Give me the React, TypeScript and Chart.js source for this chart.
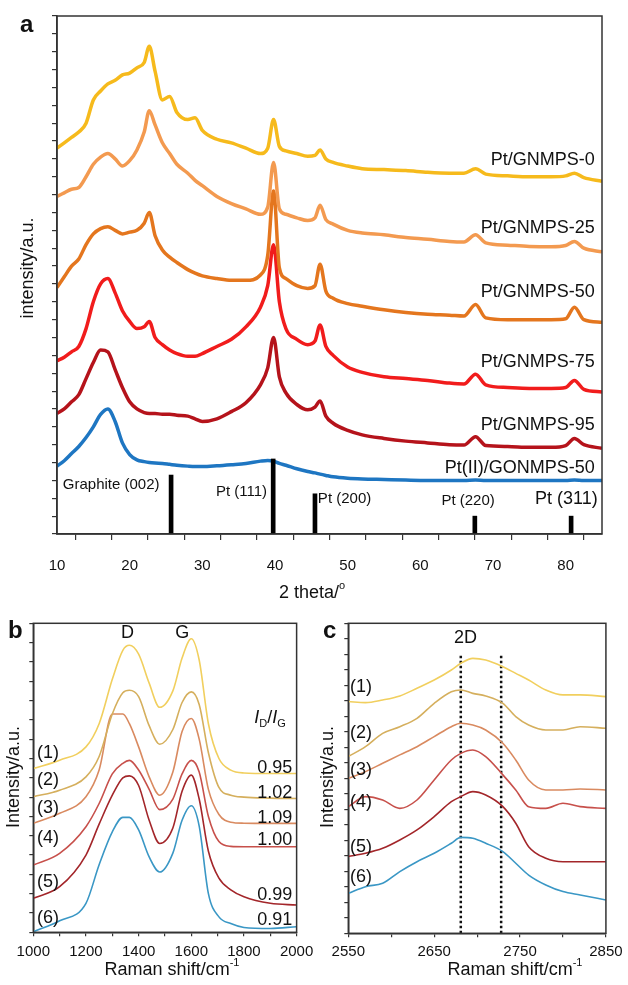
import React, { useEffect, useRef } from 'react';
import { Chart, registerables } from 'chart.js';
Chart.register(...registerables);

const FONT = '"Liberation Sans", Arial, Helvetica, sans-serif';

// ---------------- Panel a : XRD ----------------
const xrdTheta = [10, 11, 12, 13, 14, 15, 16, 17, 18, 19, 20, 21, 22, 22.7, 23.5, 24.5, 25.5, 26.5, 28, 29, 30, 32, 34, 36, 38, 39, 39.8, 40.6, 41.5, 43, 44.5, 45.5, 46.2, 47, 48, 50, 52, 55, 58, 61, 64, 66, 67.6, 69, 72, 75, 78, 80, 81.2, 82.5, 85];
const xrdPt0 = [21.6, 21.9, 22.2, 22.5, 23.0, 24.3, 24.8, 25.2, 25.4, 25.7, 25.8, 26.1, 26.4, 27.3, 25.9, 24.3, 24.5, 23.6, 23.2, 23.3, 22.6, 22.1, 21.9, 21.6, 21.3, 21.6, 23.2, 21.7, 21.45, 21.3, 21.15, 21.2, 21.5, 21.0, 20.8, 20.6, 20.45, 20.4, 20.35, 20.25, 20.2, 20.2, 20.45, 20.15, 20.05, 20.0, 20.0, 20.05, 20.2, 19.95, 19.75];
const xrdPt25 = [18.9, 19.1, 19.3, 19.4, 20.0, 20.7, 21.1, 21.3, 21.0, 20.6, 20.9, 21.5, 22.5, 23.7, 22.9, 21.9, 21.3, 20.7, 20.2, 19.8, 19.5, 18.9, 18.5, 18.2, 17.9, 18.3, 20.8, 18.2, 17.9, 17.7, 17.55, 17.7, 18.4, 17.6, 17.35, 17.0, 16.85, 16.75, 16.6, 16.5, 16.38, 16.35, 16.75, 16.3, 16.17, 16.1, 16.08, 16.15, 16.38, 16.0, 15.8];
const xrdPt50 = [13.8, 14.4, 15.0, 15.4, 16.2, 16.8, 17.1, 17.2, 17.0, 16.8, 16.9, 17.0, 17.4, 18.0, 16.7, 15.9, 15.5, 15.2, 14.8, 14.6, 14.45, 14.3, 14.2, 14.2, 14.5, 15.6, 19.2, 14.9, 14.3, 13.9, 13.75, 13.9, 15.1, 13.6, 13.2, 12.9, 12.75, 12.55, 12.4, 12.3, 12.25, 12.2, 12.85, 12.1, 12.0, 12.0, 12.0, 12.05, 12.7, 12.0, 11.85];
const xrdPt75 = [9.7, 9.9, 10.2, 10.5, 11.5, 13.0, 14.0, 14.3, 13.5, 12.5, 11.9, 11.5, 11.6, 11.9, 11.0, 10.6, 10.3, 10.1, 9.95, 9.95, 10.1, 10.5, 10.9, 11.6, 12.7, 13.9, 16.2, 13.0, 11.5, 10.9, 10.6, 10.8, 11.7, 10.5, 10.0, 9.35, 9.05, 8.8, 8.7, 8.6, 8.45, 8.4, 8.95, 8.35, 8.2, 8.15, 8.15, 8.2, 8.6, 8.1, 7.95];
const xrdPt95 = [6.75, 7.0, 7.4, 7.8, 8.7, 9.6, 10.3, 10.2, 9.2, 8.2, 7.4, 7.0, 6.8, 6.75, 6.75, 6.7, 6.7, 6.65, 6.6, 6.45, 6.3, 6.45, 6.85, 7.35, 8.35, 9.3, 11.0, 8.8, 7.9, 7.25, 6.95, 7.1, 7.45, 6.6, 6.2, 5.8, 5.55, 5.35, 5.2, 5.1, 5.0, 4.98, 5.45, 4.95, 4.9, 4.85, 4.85, 4.95, 5.35, 5.0, 4.8];
const xrdPtII = [3.8, 4.1, 4.5, 4.9, 5.4, 6.0, 6.7, 7.0, 6.3, 5.1, 4.45, 4.15, 4.05, 4.0, 3.97, 3.95, 3.9, 3.85, 3.8, 3.78, 3.78, 3.82, 3.88, 3.95, 4.08, 4.12, 4.08, 3.95, 3.85, 3.65, 3.5, 3.42, 3.35, 3.28, 3.2, 3.12, 3.08, 3.05, 3.02, 3.0, 3.0, 3.0, 3.02, 3.0, 3.0, 3.0, 3.0, 3.0, 3.02, 3.0, 3.0];
const xrdSeries = [xrdPt0, xrdPt25, xrdPt50, xrdPt75, xrdPt95, xrdPtII];
const xrdNames = ['Pt/GNMPS-0', 'Pt/GNMPS-25', 'Pt/GNMPS-50', 'Pt/GNMPS-75', 'Pt/GNMPS-95', 'Pt(II)/GONMPS-50'];
const xrdColors = ['#F6BA1C', '#F39A50', '#E4761E', '#F11C1C', '#B5131B', '#1E76C2'];
const xrdLabelX = 84.0;
const xrdLabelY = [20.93, 17.12, 13.56, 9.64, 6.1, 3.72];

const refTheta = [25.7, 39.75, 45.5, 67.5, 80.75];
const refHeight = [3.3, 4.2, 2.25, 1.0, 1.0];
const refNames = ['Graphite (002)', 'Pt (111)', 'Pt (200)', 'Pt (220)', 'Pt (311)'];
const refLabelX = [10.8, 38.9, 45.9, 62.9, 84.4];
const refLabelY = [2.74, 2.37, 1.96, 1.85, 1.96];
const refLabelAlign: ('left' | 'right')[] = ['left', 'right', 'left', 'left', 'right'];
const refLabelSize = [15, 15, 15, 15, 18];

// ---------------- Panel b : Raman ----------------
const ramanX = [1000, 1100, 1200, 1250, 1300, 1340, 1365, 1400, 1440, 1480, 1530, 1565, 1600, 1630, 1665, 1705, 1750, 1800, 1900, 2000];
const ramanS1 = [8.48, 8.91, 9.6, 10.8, 13.1, 14.6, 14.86, 14.4, 12.9, 11.65, 12.5, 14.2, 15.2, 14.1, 10.8, 9.0, 8.4, 8.25, 8.22, 8.22];
const ramanS2 = [7.02, 7.36, 8.05, 9.1, 11.3, 12.4, 12.53, 12.2, 10.7, 9.74, 10.5, 11.9, 12.45, 11.8, 9.3, 7.5, 7.1, 7.0, 6.95, 6.93];
const ramanS3 = [5.64, 6.16, 7.02, 8.4, 11.3, 11.3, 10.8, 9.6, 8.05, 7.1, 8.3, 10.4, 11.07, 10.0, 7.4, 6.1, 5.7, 5.65, 5.64, 5.64];
const ramanS4 = [3.48, 4.09, 5.47, 6.67, 8.2, 8.75, 8.9, 8.4, 7.4, 6.35, 6.9, 8.2, 8.9, 8.3, 6.0, 4.7, 4.45, 4.43, 4.43, 4.43];
const ramanS5 = [1.76, 2.36, 4.0, 5.6, 7.1, 8.0, 8.1, 7.6, 5.8, 4.6, 5.4, 7.3, 8.14, 6.9, 4.2, 2.8, 2.2, 1.84, 1.5, 1.41];
const ramanS6 = [0.03, 0.6, 1.5, 3.5, 5.2, 5.95, 5.95, 5.3, 3.9, 3.12, 4.1, 5.8, 6.55, 5.5, 2.0, 0.8, 0.45, 0.25, 0.2, 0.29];
const ramanSeries = [ramanS1, ramanS2, ramanS3, ramanS4, ramanS5, ramanS6];
const ramanColors = ['#F1CF5E', '#D5AF5D', '#D98A60', '#C7504B', '#A3262A', '#3A97C5'];
const sampleTags = ['(1)', '(2)', '(3)', '(4)', '(5)', '(6)'];
const bTagX = 1056;
const bTagY = [9.29, 7.88, 6.43, 4.88, 2.61, 0.74];
const ratioValues = ['0.95', '1.02', '1.09', '1.00', '0.99', '0.91'];
const ratioX = 1917;
const ratioY = [8.5, 7.21, 5.92, 4.79, 1.93, 0.64];

// ---------------- Panel c : 2D band ----------------
const twoDX = [2550, 2570, 2590, 2610, 2630, 2650, 2670, 2681, 2695, 2710, 2730, 2745, 2760, 2780, 2800, 2820, 2850];
const twoD1 = [14.95, 14.88, 15.05, 15.31, 15.81, 16.34, 16.99, 17.42, 17.74, 17.63, 17.2, 16.77, 16.34, 15.7, 15.38, 15.38, 15.27];
const twoD2 = [11.4, 12.04, 12.9, 13.33, 13.87, 14.84, 15.59, 15.7, 15.48, 15.31, 14.84, 13.98, 13.44, 13.12, 13.12, 13.33, 13.23];
const twoD3 = [10.0, 10.43, 10.97, 11.51, 12.04, 12.69, 13.33, 13.55, 13.44, 13.12, 12.26, 11.18, 9.89, 9.25, 9.25, 9.31, 9.25];
const twoD4 = [8.17, 8.82, 8.6, 8.06, 8.6, 9.89, 11.18, 11.61, 11.83, 11.4, 10.22, 9.25, 8.17, 8.06, 8.39, 8.17, 8.06];
const twoD5 = [4.95, 5.16, 5.48, 6.02, 6.67, 7.53, 8.49, 8.82, 9.14, 8.92, 8.17, 7.1, 5.59, 4.84, 4.62, 4.62, 4.62];
const twoD6 = [2.58, 3.01, 3.23, 3.98, 4.62, 5.16, 5.81, 6.19, 6.13, 5.81, 5.27, 4.52, 3.76, 3.12, 2.69, 2.47, 2.15];
const twoDSeries = [twoD1, twoD2, twoD3, twoD4, twoD5, twoD6];
const dottedX = [2681, 2728];
const dottedTop = 18.06;
const cTagX = 2552;
const cTagY = [15.91, 12.9, 10.54, 8.49, 5.59, 3.65];

// ---------------- helpers ----------------
type Part = { s: string; it?: boolean; sub?: boolean; sup?: boolean };
type Lab = {
  parts: Part[]; x: number; y: number; size: number;
  align?: 'left' | 'center' | 'right'; bold?: boolean; rot?: boolean; px?: boolean; base?: CanvasTextBaseline;
};
const P = (s: string): Part[] => [{ s }];

function drawLabels(chart: any, labels: Lab[]) {
  const ctx = chart.ctx as CanvasRenderingContext2D;
  const xs = chart.scales.x;
  const ys = chart.scales.y;
  for (const l of labels) {
    const px = l.px ? l.x : xs.getPixelForValue(l.x);
    const py = l.px ? l.y : ys.getPixelForValue(l.y);
    const fontOf = (p: Part) =>
      `${p.it ? 'italic ' : ''}${l.bold ? 'bold ' : ''}${p.sub || p.sup ? Math.round(l.size * 0.62) : l.size}px ${FONT}`;
    ctx.save();
    const widths = l.parts.map((p) => { ctx.font = fontOf(p); return ctx.measureText(p.s).width; });
    const W = widths.reduce((a, b) => a + b, 0);
    ctx.translate(px, py);
    if (l.rot) ctx.rotate(-Math.PI / 2);
    let x0 = l.rot ? -W / 2 : l.align === 'left' ? 0 : l.align === 'right' ? -W : -W / 2;
    ctx.fillStyle = '#111';
    ctx.textBaseline = l.base || 'middle';
    ctx.textAlign = 'left';
    l.parts.forEach((p, i) => {
      ctx.font = fontOf(p);
      const dy = p.sub ? l.size * 0.3 : p.sup ? -l.size * 0.38 : 0;
      ctx.fillText(p.s, x0, dy);
      x0 += widths[i];
    });
    ctx.restore();
  }
}

function decoPlugin(labels: Lab[]) {
  return {
    id: 'deco',
    afterDatasetsDraw(chart: any) {
      const { ctx, chartArea: a } = chart;
      ctx.save();
      ctx.strokeStyle = '#333';
      ctx.lineWidth = 1.5;
      ctx.strokeRect(a.left, a.top, a.right - a.left, a.bottom - a.top);
      ctx.restore();
      drawLabels(chart, labels);
    },
  };
}

const gridOpts = (len: number) => ({ drawOnChartArea: false, drawTicks: true, tickLength: len, color: '#333', lineWidth: 1.2 });
const borderOpts = { display: true, color: '#333', width: 1.5 };

function useChart(ref: React.RefObject<HTMLCanvasElement>, make: () => any) {
  useEffect(() => {
    if (!ref.current) return;
    const chart = new Chart(ref.current, make());
    return () => chart.destroy();
  }, []);
}

// ---------------- App ----------------
export default function App() {
  const aRef = useRef<HTMLCanvasElement>(null);
  const bRef = useRef<HTMLCanvasElement>(null);
  const cRef = useRef<HTMLCanvasElement>(null);

  useChart(aRef, () => {
    const labels: Lab[] = [
      ...xrdNames.map((n, i) => ({ parts: P(n), x: xrdLabelX, y: xrdLabelY[i], size: 18, align: 'right' as const })),
      ...refNames.map((n, i) => ({ parts: P(n), x: refLabelX[i], y: refLabelY[i], size: refLabelSize[i], align: refLabelAlign[i] })),
      { parts: P('a'), x: 20, y: 32, size: 24, bold: true, px: true, align: 'left', base: 'alphabetic' },
      { parts: P('intensity/a.u.'), x: 28, y: 268, size: 18, rot: true, px: true },
      { parts: [{ s: '2 theta/' }, { s: 'o', sup: true }], x: 312, y: 593, size: 18, px: true },
    ];
    return {
      type: 'line',
      data: {
        datasets: [
          ...xrdSeries.map((s, i) => ({
            label: xrdNames[i],
            data: xrdTheta.map((t, j) => ({ x: t, y: s[j] })),
            borderColor: xrdColors[i],
            borderWidth: 3.5,
            pointRadius: 0,
            cubicInterpolationMode: 'monotone',
            fill: false,
          })),
          {
            type: 'bar',
            label: 'reference',
            data: refTheta.map((t, j) => ({ x: t, y: refHeight[j] })),
            backgroundColor: '#000',
            barThickness: 4,
            order: -1,
          },
        ],
      },
      options: {
        animation: false,
        responsive: false,
        devicePixelRatio: 1,
        layout: { padding: { left: 0, top: 16, right: 26, bottom: 0 } },
        plugins: { legend: { display: false }, tooltip: { enabled: false } },
        scales: {
          x: {
            type: 'linear', min: 10, max: 85, offset: false,
            afterFit: (s: any) => { s.height = 76; },
            grid: gridOpts(6), border: borderOpts,
            ticks: {
              stepSize: 5, autoSkip: false, maxRotation: 0, minRotation: 0, padding: 17,
              color: '#111', font: { size: 15, family: FONT },
              callback: (v: any) => (Math.round(v) % 10 === 0 ? String(v) : ''),
            },
          },
          y: {
            type: 'linear', min: 0, max: 29,
            afterFit: (s: any) => { s.width = 57; },
            grid: gridOpts(5), border: borderOpts,
            ticks: { stepSize: 1, autoSkip: false, font: { size: 8 }, callback: () => '' },
          },
        },
      },
      plugins: [decoPlugin(labels)],
    };
  });

  useChart(bRef, () => {
    const labels: Lab[] = [
      { parts: P('D'), x: 1358, y: 15.48, size: 18 },
      { parts: P('G'), x: 1566, y: 15.48, size: 18 },
      { parts: [{ s: 'I', it: true }, { s: 'D', sub: true }, { s: '/' }, { s: 'I', it: true }, { s: 'G', sub: true }], x: 1899, y: 11.09, size: 18 },
      ...sampleTags.map((t, i) => ({ parts: P(t), x: bTagX, y: bTagY[i], size: 18 })),
      ...ratioValues.map((t, i) => ({ parts: P(t), x: ratioX, y: ratioY[i], size: 18 })),
      { parts: P('b'), x: 8, y: 38, size: 24, bold: true, px: true, align: 'left', base: 'alphabetic' },
      { parts: P('Intensity/a.u.'), x: 14, y: 177, size: 18, rot: true, px: true },
      { parts: [{ s: 'Raman shift/cm' }, { s: '-1', sup: true }], x: 172, y: 370, size: 18, px: true },
    ];
    return {
      type: 'line',
      data: {
        datasets: ramanSeries.map((s, i) => ({
          label: sampleTags[i],
          data: ramanX.map((x, j) => ({ x, y: s[j] })),
          borderColor: ramanColors[i],
          borderWidth: 1.6,
          pointRadius: 0,
          cubicInterpolationMode: 'monotone',
          fill: false,
        })),
      },
      options: {
        animation: false,
        responsive: false,
        devicePixelRatio: 1,
        layout: { padding: { left: 0, top: 23.3, right: 22.3, bottom: 0 } },
        plugins: { legend: { display: false }, tooltip: { enabled: false } },
        scales: {
          x: {
            type: 'linear', min: 1000, max: 2000,
            afterFit: (s: any) => { s.height = 52.7; },
            grid: gridOpts(4), border: borderOpts,
            ticks: {
              stepSize: 100, autoSkip: false, maxRotation: 0, minRotation: 0, padding: 6.7,
              color: '#111', font: { size: 15, family: FONT },
              callback: (v: any) => (Math.round(v) % 200 === 0 ? String(v) : ''),
            },
          },
          y: {
            type: 'linear', min: 0, max: 16,
            afterFit: (s: any) => { s.width = 33.3; },
            grid: gridOpts(4), border: borderOpts,
            ticks: { stepSize: 1, autoSkip: false, font: { size: 8 }, callback: () => '' },
          },
        },
      },
      plugins: [decoPlugin(labels)],
    };
  });

  useChart(cRef, () => {
    const labels: Lab[] = [
      { parts: P('2D'), x: 2686.6, y: 19.05, size: 18 },
      ...sampleTags.map((t, i) => ({ parts: P(t), x: cTagX, y: cTagY[i], size: 18, align: 'left' as const })),
      { parts: P('c'), x: 13, y: 38, size: 24, bold: true, px: true, align: 'left', base: 'alphabetic' },
      { parts: P('Intensity/a.u.'), x: 18, y: 177, size: 18, rot: true, px: true },
      { parts: [{ s: 'Raman shift/cm' }, { s: '-1', sup: true }], x: 205, y: 370, size: 18, px: true },
    ];
    return {
      type: 'line',
      data: {
        datasets: [
          ...twoDSeries.map((s, i) => ({
            label: sampleTags[i],
            data: twoDX.map((x, j) => ({ x, y: s[j] })),
            borderColor: ramanColors[i],
            borderWidth: 1.6,
            pointRadius: 0,
            cubicInterpolationMode: 'monotone',
            fill: false,
          })),
          ...dottedX.map((x) => ({
            label: 'guide',
            data: [{ x, y: 0 }, { x, y: dottedTop }],
            borderColor: '#111',
            borderWidth: 2.5,
            borderDash: [2.5, 2.5],
            pointRadius: 0,
            fill: false,
          })),
        ],
      },
      options: {
        animation: false,
        responsive: false,
        devicePixelRatio: 1,
        layout: { padding: { left: 0, top: 23.3, right: 19.7, bottom: 0 } },
        plugins: { legend: { display: false }, tooltip: { enabled: false } },
        scales: {
          x: {
            type: 'linear', min: 2550, max: 2850,
            afterFit: (s: any) => { s.height = 51.7; },
            grid: gridOpts(4), border: borderOpts,
            ticks: {
              stepSize: 50, autoSkip: false, maxRotation: 0, minRotation: 0, padding: 5.4,
              color: '#111', font: { size: 15, family: FONT },
              callback: (v: any) => (Math.round(v - 2550) % 100 === 0 ? String(v) : ''),
            },
          },
          y: {
            type: 'linear', min: 0, max: 20,
            afterFit: (s: any) => { s.width = 38.3; },
            grid: gridOpts(4), border: borderOpts,
            ticks: { stepSize: 1, autoSkip: false, font: { size: 8 }, callback: () => '' },
          },
        },
      },
      plugins: [decoPlugin(labels)],
    };
  });

  return (
    <div style={{ position: 'absolute', left: 0, top: 0, width: 628, height: 985, background: '#fff', overflow: 'hidden' }}>
      <canvas ref={aRef} width={628} height={610} style={{ position: 'absolute', left: 0, top: 0, width: 628, height: 610 }} />
      <canvas ref={bRef} width={320} height={385} style={{ position: 'absolute', left: 0, top: 600, width: 320, height: 385 }} />
      <canvas ref={cRef} width={318} height={385} style={{ position: 'absolute', left: 310, top: 600, width: 318, height: 385 }} />
    </div>
  );
}
